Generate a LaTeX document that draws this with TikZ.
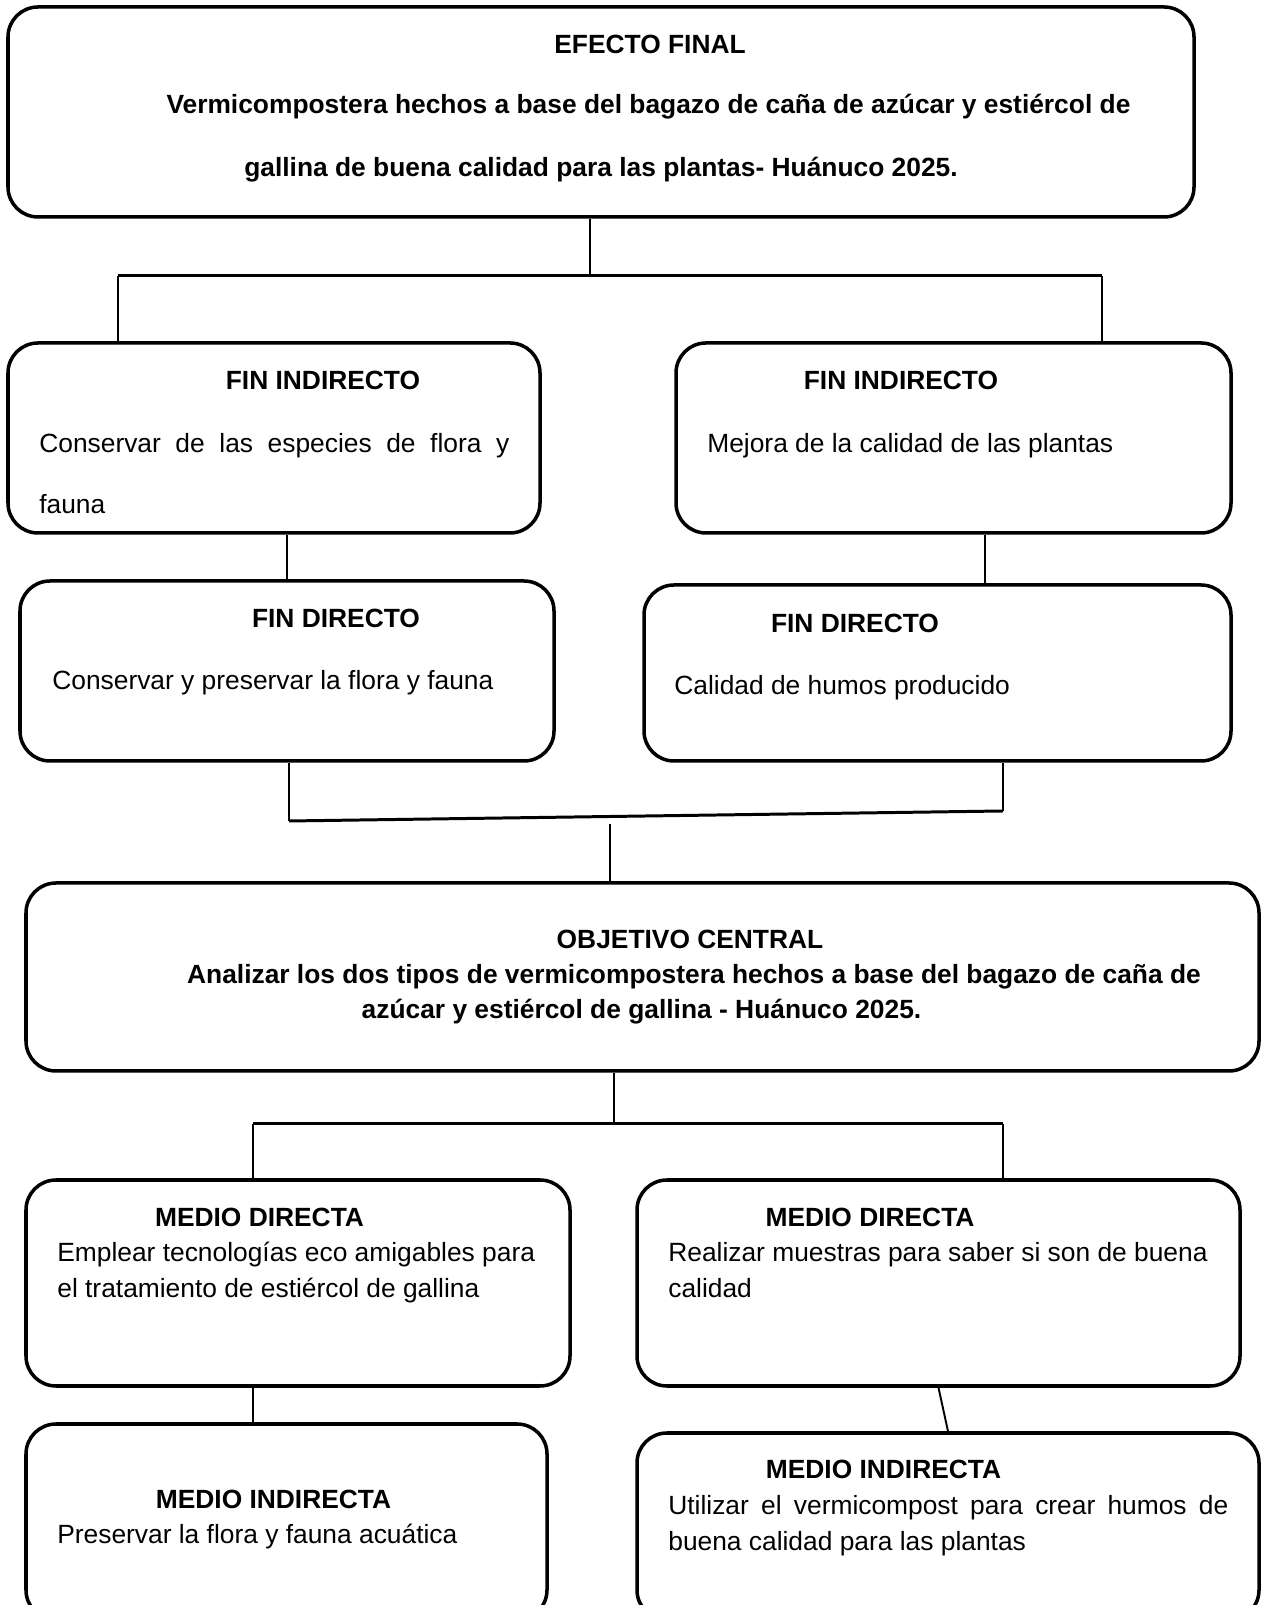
\documentclass[tikz,border=0pt]{standalone}
\usepackage{fontspec}
\setmainfont{Liberation Sans}
\tikzset{
  arb/box/.style={
    draw=black,
    line width=2pt,
    rounded corners=0.6cm,
    fill=white,
    inner sep=0pt
  },
  arb/head/.style={font=\fontsize{15}{18}\selectfont\bfseries, anchor=base, inner sep=0pt},
  arb/body/.style={font=\fontsize{15}{18}\selectfont, anchor=base west, inner sep=0pt},
  arb/link/.style={line width=1.1pt, draw=black},
  arb/bar/.style={line width=1.7pt, draw=black}
}

\begin{document}
\begin{tikzpicture}[x=1cm,y=1cm]
  \path[use as bounding box,clip] (0,0) rectangle (25.22,32.10);

  % efecto final
  \node[arb/box,minimum width=23.72cm,minimum height=4.2cm] (efecto) at (12.02,29.86) {};
  \node[arb/head] (efectoT) at (13.00,31.02) {EFECTO FINAL};
  \node[arb/head] (efectoA) at (12.97,29.82) {Vermicompostera hechos a base del bagazo de caña de azúcar y estiércol de};
  \node[arb/head] (efectoB) at (12.02,28.56) {gallina de buena calidad para las plantas- Huánuco 2025.};

  % fines indirectos
  \node[arb/box,minimum width=10.64cm,minimum height=3.8cm] (finind1) at (5.48,23.34) {};
  \node[arb/head] (finind1T) at (6.46,24.30) {FIN INDIRECTO};
  \node[arb/body] (finind1A) at (0.78,23.05) {\makebox[9.40cm][s]{Conservar de las especies de flora y}};
  \node[arb/body] (finind1B) at (0.78,21.83) {fauna};
  \node[arb/box,minimum width=11.10cm,minimum height=3.8cm] (finind2) at (19.07,23.34) {};
  \node[arb/head] (finind2T) at (18.02,24.30) {FIN INDIRECTO};
  \node[arb/body] (finind2A) at (14.14,23.05) {Mejora de la calidad de las plantas};

  % fines directos
  \node[arb/box,minimum width=10.68cm,minimum height=3.6cm] (findir1) at (5.74,18.68) {};
  \node[arb/head] (findir1T) at (6.72,19.55) {FIN DIRECTO};
  \node[arb/body] (findir1A) at (1.04,18.31) {Conservar y preservar la flora y fauna};
  \node[arb/box,minimum width=11.74cm,minimum height=3.52cm] (findir2) at (18.75,18.64) {};
  \node[arb/head] (findir2T) at (17.10,19.45) {FIN DIRECTO};
  \node[arb/body] (findir2A) at (13.48,18.21) {Calidad de humos producido};

  % objetivo central
  \node[arb/box,minimum width=24.66cm,minimum height=3.76cm] (objetivo) at (12.85,12.56) {};
  \node[arb/head] (objetivoT) at (13.80,13.13) {OBJETIVO CENTRAL};
  \node[arb/head] (objetivoA) at (13.88,12.42) {Analizar los dos tipos de vermicompostera hechos a base del bagazo de caña de};
  \node[arb/head] (objetivoB) at (12.83,11.73) {azúcar y estiércol de gallina - Huánuco 2025.};

  % medios directos
  \node[arb/box,minimum width=10.88cm,minimum height=4.12cm] (medio1) at (5.96,6.44) {};
  \node[arb/head] (medio1T) at (5.19,7.56) {MEDIO DIRECTA};
  \node[arb/body] (medio1A) at (1.14,6.87) {Emplear tecnologías eco amigables para};
  \node[arb/body] (medio1B) at (1.14,6.14) {el tratamiento de estiércol de gallina};
  \node[arb/box,minimum width=12.06cm,minimum height=4.12cm] (medio2) at (18.77,6.44) {};
  \node[arb/head] (medio2T) at (17.40,7.56) {MEDIO DIRECTA};
  \node[arb/body] (medio2A) at (13.36,6.87) {Realizar muestras para saber si son de buena};
  \node[arb/body] (medio2B) at (13.36,6.14) {calidad};

  % medios indirectos
  \node[arb/box,minimum width=10.42cm,minimum height=3.92cm] (medioind1) at (5.73,1.66) {};
  \node[arb/head] (medioind1T) at (5.47,1.93) {MEDIO INDIRECTA};
  \node[arb/body] (medioind1A) at (1.14,1.23) {Preservar la flora y fauna acuática};
  \node[arb/box,minimum width=12.44cm,minimum height=3.74cm] (medioind2) at (18.96,1.57) {};
  \node[arb/head] (medioind2T) at (17.67,2.52) {MEDIO INDIRECTA};
  \node[arb/body] (medioind2A) at (13.36,1.80) {\makebox[11.20cm][s]{Utilizar el vermicompost para crear humos de}};
  \node[arb/body] (medioind2B) at (13.36,1.09) {buena calidad para las plantas};

  % conectores
  \coordinate (j1) at (11.80,26.58);
  \coordinate (j1l) at (2.36,26.58);
  \coordinate (j1r) at (22.04,26.58);
  \draw[arb/link] (efecto.south -| j1) -- (j1);
  \draw[arb/bar] (j1l) -- (j1r);
  \draw[arb/link] (j1l) -- (j1l |- finind1.north);
  \draw[arb/link] (j1r) -- (j1r |- finind2.north);

  \coordinate (j2) at (19.70,21.00);
  \draw[arb/link] (finind1.south -| findir1.north) -- (findir1.north);
  \draw[arb/link] (finind2.south -| j2) -- (findir2.north -| j2);

  \coordinate (j3l) at (5.78,15.68);
  \coordinate (j3r) at (20.06,15.88);
  \coordinate (j4) at (12.20,15.62);
  \draw[arb/link] (findir1.south -| j3l) -- (j3l);
  \draw[arb/link] (findir2.south -| j3r) -- (j3r);
  \draw[arb/bar] (j3l) -- (j3r);
  \draw[arb/link] (j4) -- (objetivo.north -| j4);

  \coordinate (j5) at (12.28,9.62);
  \coordinate (j5l) at (5.06,9.62);
  \coordinate (j5r) at (20.06,9.62);
  \draw[arb/link] (objetivo.south -| j5) -- (j5);
  \draw[arb/bar] (j5l) -- (j5r);
  \draw[arb/link] (j5l) -- (j5l |- medio1.north);
  \draw[arb/link] (j5r) -- (j5r |- medio2.north);

  \draw[arb/link] (medio1.south -| j5l) -- (medioind1.north -| j5l);
  \draw[arb/link] (medio2.south) -- (medioind2.north);
\end{tikzpicture}
\end{document}
